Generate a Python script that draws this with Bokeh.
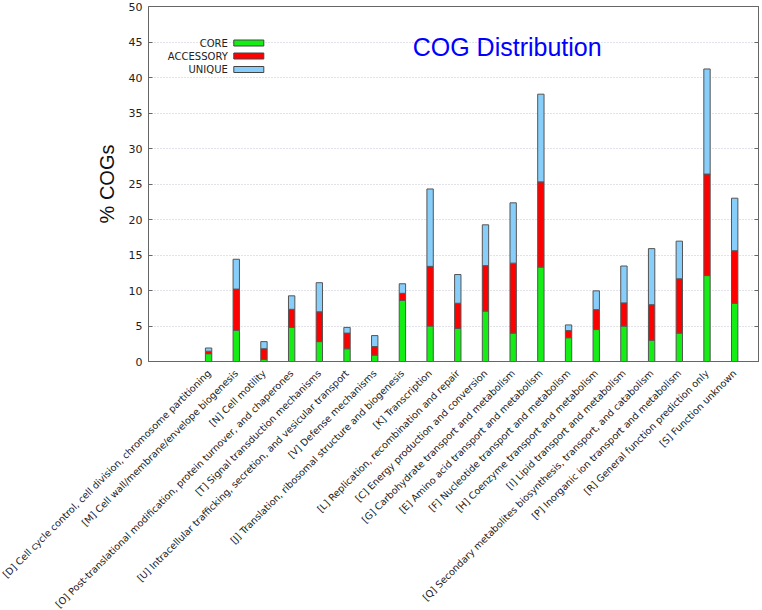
import math
from bokeh.plotting import figure
from bokeh.models import (ColumnDataSource, FixedTicker, SingleIntervalTicker, LinearAxis,
                          Label, BoxAnnotation, Range1d)
from bokeh.embed import file_html
from bokeh.resources import INLINE

categories = [
    "[D] Cell cycle control, cell division, chromosome partitioning",
    "[M] Cell wall/membrane/envelope biogenesis",
    "[N] Cell motility",
    "[O] Post-translational modification, protein turnover, and chaperones",
    "[T] Signal transduction mechanisms",
    "[U] Intracellular trafficking, secretion, and vesicular transport",
    "[V] Defense mechanisms",
    "[J] Translation, ribosomal structure and biogenesis",
    "[K] Transcription",
    "[L] Replication, recombination and repair",
    "[C] Energy production and conversion",
    "[G] Carbohydrate transport and metabolism",
    "[E] Amino acid transport and metabolism",
    "[F] Nucleotide transport and metabolism",
    "[H] Coenzyme transport and metabolism",
    "[I] Lipid transport and metabolism",
    "[Q] Secondary metabolites biosynthesis, transport, and catabolism",
    "[P] Inorganic ion transport and metabolism",
    "[R] General function prediction only",
    "[S] Function unknown",
]
core = [1.1, 4.4, 0.3, 4.8, 2.8, 1.8, 0.9, 8.6, 5.0, 4.65, 7.1, 4.0, 13.3, 3.35, 4.5, 5.0, 3.0, 4.0, 12.1, 8.2]
accessory = [0.35, 5.8, 1.5, 2.55, 4.2, 2.2, 1.2, 1.0, 8.4, 3.55, 6.4, 9.85, 12.0, 1.0, 2.8, 3.25, 5.0, 7.65, 14.3, 7.4]
unique = [0.45, 4.2, 1.0, 1.9, 4.1, 0.8, 1.55, 1.35, 10.9, 4.05, 5.75, 8.5, 12.35, 0.8, 2.65, 5.2, 7.9, 5.3, 14.8, 7.4]
series = ["CORE", "ACCESSORY", "UNIQUE"]
colors = ["#14ee14", "#ff0000", "#87cefa"]
y_ticks = list(range(0, 51, 5))

xs = list(range(len(categories)))
source = ColumnDataSource(dict(x=xs, core=core, accessory=accessory, unique=unique))

# geometry
FW, FH = 610, 355
X0, X1 = -2.17, 19.86
Y0, Y1 = 0, 50
LEFT, TOP = 148, 6

def px2x(px):  # px relative to frame left
    return X0 + px * (X1 - X0) / FW

def py2y(py):  # py relative to frame top
    return Y1 - py * (Y1 - Y0) / FH

p = figure(frame_width=FW, frame_height=FH, output_backend="svg", toolbar_location=None,
           x_range=Range1d(X0, X1), y_range=Range1d(Y0, Y1),
           min_border_left=LEFT, min_border_top=TOP, min_border_right=2, min_border_bottom=2,
           background_fill_color="white", border_fill_color="white")

p.vbar_stack(["core", "accessory", "unique"], x="x", width=0.23, color=colors,
             line_color="#555555", line_width=1, source=source)

tick_font = "DejaVu Sans"
ax = p.xaxis[0]
ax.ticker = FixedTicker(ticks=xs)
ax.major_label_overrides = {i: c for i, c in enumerate(categories)}
ax.major_label_orientation = math.pi / 4
ax.major_label_text_font = tick_font
ax.major_label_text_font_size = "9.6px"
ax.major_label_text_color = "#222222"
ax.major_tick_in = 0
ax.major_tick_out = 0
ax.minor_tick_line_color = None
ax.axis_line_color = "#666666"
ax.major_label_standoff = 10

ay = p.yaxis[0]
ay.ticker = FixedTicker(ticks=y_ticks)
ay.major_tick_in = 4
ay.major_tick_out = 0
ay.minor_tick_line_color = None
ay.major_tick_line_color = "#666666"
ay.axis_line_color = "#666666"
ay.major_label_text_font = tick_font
ay.major_label_text_font_size = "11px"
ay.major_label_text_color = "#222222"
ay.major_label_standoff = 6
ay.axis_label = "% COGs"
ay.axis_label_text_font = "Liberation Sans"
ay.axis_label_text_font_size = "20px"
ay.axis_label_text_font_style = "normal"
ay.axis_label_text_color = "#111111"
ay.axis_label_standoff = 8

ar = LinearAxis(ticker=FixedTicker(ticks=y_ticks), major_tick_in=4, major_tick_out=0,
                minor_tick_line_color=None,
                major_label_overrides={t: "" for t in y_ticks},
                axis_line_color="#666666", major_tick_line_color="#666666",
                major_label_standoff=0)
p.add_layout(ar, "right")

p.xgrid.grid_line_color = None
p.ygrid.ticker = FixedTicker(ticks=y_ticks)
p.ygrid.grid_line_color = "#c4c4d4"
p.ygrid.grid_line_dash = "1 2"
p.outline_line_color = "#666666"

# title inside the plot
p.add_layout(Label(x=px2x(358.7), y=py2y(40.7), text="COG Distribution", text_align="center",
                   text_baseline="alphabetic", text_font="Liberation Sans",
                   text_font_size="25px", text_color="#0000ff"))

# legend (label left, swatch right)
row_py = [36.5, 49.5, 63.0]
for name, col, py in zip(series, colors, row_py):
    p.add_layout(Label(x=px2x(79.3), y=py2y(py), text=name, text_align="right",
                       text_baseline="middle", text_font=tick_font,
                       text_font_size="10px", text_color="#222222"))
    p.add_layout(BoxAnnotation(left=px2x(85.3), right=px2x(115.3),
                               bottom=py2y(py + 3), top=py2y(py - 3),
                               fill_color=col, fill_alpha=1.0,
                               line_color="#444444", line_width=1, line_alpha=1.0))

open("out.html", "w").write(file_html(p, INLINE))
